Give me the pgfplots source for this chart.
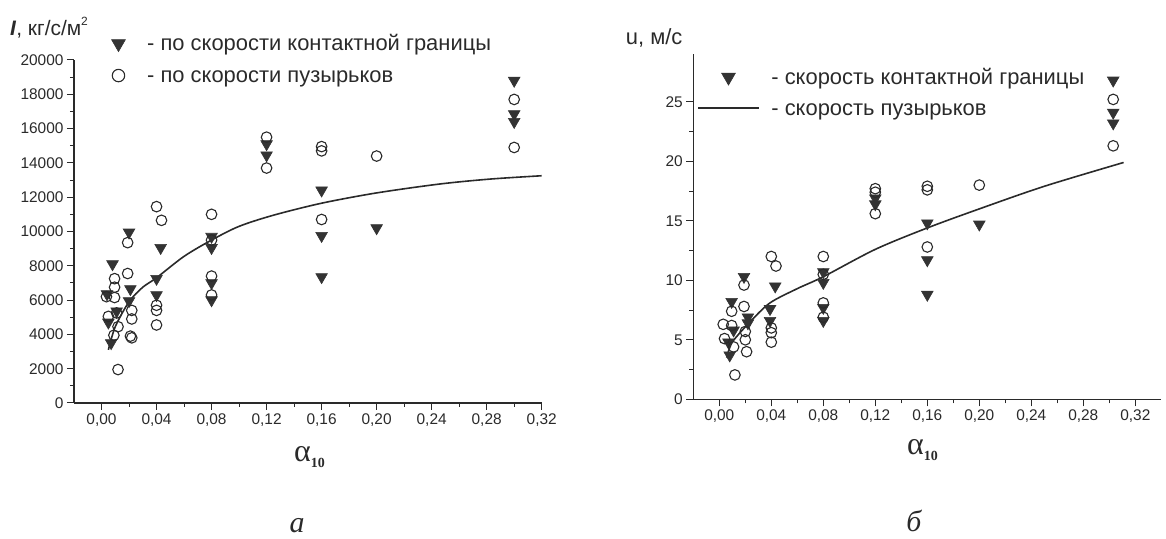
\documentclass[border=0pt]{standalone}
\usepackage{pgfplots}
\pgfplotsset{compat=1.18}
\usepackage{fontspec}
\setmainfont{Liberation Sans}
\newfontfamily\seriffont{Liberation Serif}
\definecolor{ink}{HTML}{2A2A2A}
\definecolor{mk}{HTML}{333333}

\pgfplotstableread{
x y
0.004 6350
0.008 8100
0.005 4700
0.007 3500
0.011 5350
0.020 9950
0.021 6650
0.020 5950
0.040 7250
0.040 6300
0.043 9050
0.080 9700
0.080 9050
0.080 7000
0.080 6000
0.120 15100
0.120 14450
0.160 12400
0.160 9750
0.160 7350
0.200 10200
0.300 18800
0.300 16850
0.300 16400
}\Ltri

\pgfplotstableread{
x y
0.0036 6200
0.005 5050
0.0095 7250
0.0095 6750
0.0095 6150
0.011 5250
0.012 4450
0.009 3950
0.012 1950
0.019 9350
0.019 7550
0.022 5400
0.022 4900
0.021 3900
0.022 3800
0.040 11450
0.0436 10650
0.040 5700
0.040 5400
0.040 4550
0.080 11000
0.080 9500
0.080 7400
0.080 6300
0.120 15500
0.120 13700
0.160 14950
0.160 14700
0.160 10700
0.200 14400
0.300 17700
0.300 14900
}\Lcirc

\pgfplotstableread{
x y
0.005 3100
0.010 4450
0.020 5900
0.030 6750
0.040 7300
0.060 8550
0.080 9500
0.100 10300
0.125 10950
0.160 11650
0.200 12250
0.246 12770
0.283 13060
0.320 13250
}\Lcurve

\pgfplotstableread{
x y
0.0095 8.2
0.019 10.3
0.022 6.9
0.022 6.4
0.043 9.5
0.039 7.6
0.039 6.6
0.011 5.8
0.007 4.8
0.008 3.7
0.080 10.7
0.080 9.8
0.080 7.7
0.080 6.6
0.120 16.9
0.120 16.4
0.160 14.8
0.160 11.7
0.160 8.8
0.200 14.7
0.303 26.8
0.303 24.1
0.303 23.2
}\Rtri

\pgfplotstableread{
x y
0.003 6.3
0.0095 7.4
0.0095 6.2
0.004 5.1
0.011 4.4
0.012 2.05
0.019 9.6
0.019 7.8
0.020 5.7
0.020 5.0
0.021 4.0
0.040 12.0
0.0436 11.2
0.040 6.0
0.040 5.6
0.040 4.8
0.080 12.0
0.080 10.5
0.080 8.1
0.080 6.9
0.120 17.7
0.120 17.4
0.120 15.6
0.160 17.9
0.160 17.6
0.160 12.8
0.200 18.0
0.303 25.2
0.303 21.3
}\Rcirc

\pgfplotstableread{
x y
0.0057 3.5
0.010 4.8
0.0236 6.5
0.039 8.1
0.060 9.3
0.080 10.3
0.120 12.6
0.160 14.4
0.200 16.0
0.250 17.9
0.311 19.9
}\Rcurve

\pgfplotsset{
  orig/.style={
    scale only axis, axis lines=left,
    axis line style={-, line width=1.1bp, draw=ink},
    tick align=outside, major tick length=7bp, minor tick length=4bp,
    every tick/.style={draw=ink, line width=1bp},
    tick label style={font=\fontsize{15.5}{16}\selectfont, text=ink},
    /pgf/number format/assume math mode=true,
    scaled ticks=false, clip=false,
    xmin=-0.02,
    xtick={0,0.04,0.08,0.12,0.16,0.2,0.24,0.28,0.32},
    minor x tick num=1, minor y tick num=1,
    xticklabel style={/pgf/number format/.cd, fixed, fixed zerofill, precision=2, use comma},
    yticklabel style={/pgf/number format/.cd, 1000 sep={}},
    xtick pos=bottom, ytick pos=left,
    legend cell align=left,
    legend style={draw=none, fill=none, font=\fontsize{22}{24}\selectfont, text=ink,
      inner sep=0pt, nodes={inner sep=0pt}},
  },
  tri/.style={only marks, mark=triangle*, mark size=6.7bp,
    mark options={rotate=180, fill=mk, draw=mk, line width=0.6bp}},
  circ/.style={only marks, mark=o, mark size=5.3bp,
    mark options={draw=ink, fill=white, line width=1.1bp}},
  fitline/.style={ink, line width=1.6bp, smooth, no marks},
  legLt/.style={legend image code/.code={\path[draw=none,fill=none] (0bp,-6bp) rectangle (41.7bp,6bp); \draw[##1, mark size=8bp] plot coordinates {(13bp,0bp)};}},
  legLc/.style={legend image code/.code={\path[draw=none,fill=none] (0bp,-6bp) rectangle (41.7bp,6bp); \draw[##1, mark size=6.2bp] plot coordinates {(13bp,0bp)};}},
  legRm/.style={legend image code/.code={\path[draw=none,fill=none] (0bp,-6bp) rectangle (73.4bp,6bp); \draw[##1, mark size=8bp] plot coordinates {(30.5bp,0bp)};}},
  legRl/.style={legend image code/.code={\path[draw=none,fill=none] (0bp,-6bp) rectangle (73.4bp,6bp); \draw[ink, line width=1.6bp] (0bp,0bp) -- (61bp,0bp);}},
}

\begin{document}
\begin{tikzpicture}
\useasboundingbox (0,0) rectangle (1166bp,539bp);

% ---------- left panel (a) ----------
\begin{axis}[orig,
  at={(74bp,136bp)}, anchor=south west, width=467.7bp, height=343bp,
  xmax=0.32, ymin=0, ymax=20000,
  ytick={0,2000,...,20000},
  legend style={at={(0.0669,1.0743)}, anchor=north west, row sep=14.2bp},
]
\addplot[fitline, forget plot] table {\Lcurve};
\addplot[tri, legLt] table {\Ltri};
\addlegendentry{\vphantom{Aй}- по скорости контактной границы}
\addplot[circ, legLc] table {\Lcirc};
\addlegendentry{\vphantom{Aй}- по скорости пузырьков}
\end{axis}

% ---------- right panel (б) ----------
\begin{axis}[orig,
  at={(693.3bp,139.7bp)}, anchor=south west, width=468bp, height=345.1bp,
  xmax=0.34, ymin=0, ymax=29,
  ytick={0,5,...,25},
  legend style={at={(0.0079,0.960)}, anchor=north west, row sep=13.2bp},
]
\addplot[tri, legRm] table {\Rtri};
\addlegendentry{\vphantom{Aй}- скорость контактной границы}
\addplot[circ, forget plot] table {\Rcirc};
\addplot[fitline, legRl] table {\Rcurve};
\addlegendentry{\vphantom{Aй}- скорость пузырьков}
\end{axis}

% ---------- labels ----------
\node[anchor=base west, text=ink, inner sep=0pt] at (10bp,503bp)
  {\fontsize{21}{21}\selectfont\textbf{\textit{I}}, кг/с/м\raisebox{10bp}{\fontsize{12}{12}\selectfont 2}};
\node[anchor=base west, text=ink, inner sep=0pt] at (625.7bp,494bp)
  {\fontsize{22}{22}\selectfont u, м/с};

\node[anchor=base west, text=ink, inner sep=0pt] at (294bp,77bp)
  {\seriffont\fontsize{32}{32}\selectfont α\raisebox{-6bp}{\fontsize{14}{14}\selectfont\bfseries 10}};
\node[anchor=base west, text=ink, inner sep=0pt] at (907bp,84bp)
  {\seriffont\fontsize{32}{32}\selectfont α\raisebox{-6bp}{\fontsize{14}{14}\selectfont\bfseries 10}};

\node[anchor=base, text=ink, inner sep=0pt] at (297bp,7bp)
  {\seriffont\itshape\fontsize{30}{30}\selectfont a};
\node[anchor=base, text=ink, inner sep=0pt] at (914bp,8bp)
  {\seriffont\itshape\fontsize{30}{30}\selectfont б};
\end{tikzpicture}
\end{document}
